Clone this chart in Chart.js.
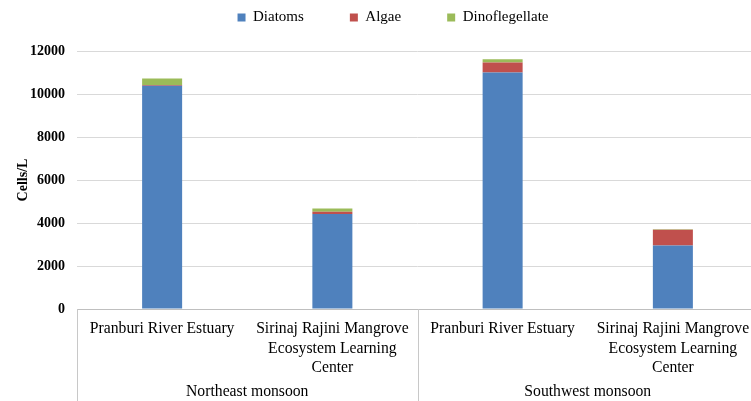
<!DOCTYPE html>
<html>
<head>
  <meta charset="utf-8">
  <title>Cells/L</title>
  <script src="https://cdn.jsdelivr.net/npm/chart.js@4.4.1/dist/chart.umd.min.js"></script>
  <style>
    body { margin: 0; overflow: hidden; background: #ffffff; }
    #wrap { width: 786px; height: 401px; }
  </style>
</head>
<body>
<div id="wrap"><canvas id="myChart"></canvas></div>
<script>
  // data
  const sites = [
    ["Pranburi River Estuary"],
    ["Sirinaj Rajini Mangrove", "Ecosystem Learning", "Center"],
    ["Pranburi River Estuary"],
    ["Sirinaj Rajini Mangrove", "Ecosystem Learning", "Center"]
  ];
  const seasons = ["Northeast monsoon", "Southwest monsoon"];
  const diatoms = [10380, 4420, 11000, 2950];
  const algae = [40, 100, 460, 740];
  const dino = [300, 160, 160, 20];
  const yTicks = [0, 2000, 4000, 6000, 8000, 10000, 12000];

  const serif = "'Liberation Serif', 'Times New Roman', serif";

  // lines under the axis that mark off the two monsoon groups
  const groupLines = {
    id: 'groupLines',
    afterDraw(chart) {
      const x = chart.scales.x;
      const c = chart.ctx;
      const mid = (x.getPixelForValue(1) + x.getPixelForValue(2)) / 2;
      c.save();
      c.strokeStyle = '#c8c8c8';
      c.lineWidth = 1;
      [x.left, mid, x.right].forEach(px => {
        c.beginPath();
        c.moveTo(Math.round(px) + 0.5, x.top);
        c.lineTo(Math.round(px) + 0.5, chart.height);
        c.stroke();
      });
      c.restore();
    }
  };

  // keep the legend short even with wide spacing between items
  const legendHeight = {
    id: 'legendHeight',
    beforeInit(chart) {
      const fit = chart.legend.fit;
      chart.legend.fit = function () {
        fit.bind(chart.legend)();
        this.height = 87;
      };
    }
  };

  var ctx = document.getElementById('myChart').getContext('2d');
  var myChart = new Chart(ctx, {
    type: 'bar',
    data: {
      labels: sites,
      datasets: [
        { label: 'Diatoms', data: diatoms, backgroundColor: '#4f81bd' },
        { label: 'Algae', data: algae, backgroundColor: '#c0504d' },
        { label: 'Dinoflegellate', data: dino, backgroundColor: '#9bbb59' }
      ]
    },
    options: {
      responsive: true,
      maintainAspectRatio: false,
      animation: false,
      layout: { padding: { top: -36, right: 0, left: 0, bottom: 0 } },
      datasets: { bar: { barPercentage: 0.235, categoryPercentage: 1 } },
      plugins: {
        tooltip: { enabled: false },
        legend: {
          position: 'top',
          labels: {
            boxWidth: 8, boxHeight: 8, padding: 46,
            color: '#000', font: { family: serif, size: 15 }
          }
        }
      },
      scales: {
        x: {
          stacked: true,
          grid: { display: false, drawTicks: false },
          border: { color: '#bfbfbf' },
          ticks: {
            color: '#000', maxRotation: 0, autoSkip: false, padding: 10,
            font: { family: serif, size: 15.7, lineHeight: 1.25 }
          },
          afterFit(s) { s.height = 70; }
        },
        group: {
          type: 'category',
          labels: seasons,
          position: 'bottom',
          offset: true,
          grid: { display: false, drawTicks: false },
          border: { display: false },
          ticks: { color: '#000', padding: 3, font: { family: serif, size: 15.7 } },
          afterFit(s) { s.height = 22; }
        },
        y: {
          stacked: true,
          min: 0, max: 12000,
          afterBuildTicks(s) { s.ticks = yTicks.map(v => ({ value: v })); },
          grid: { color: '#d9d9d9', drawTicks: false },
          border: { display: false },
          ticks: {
            color: '#000', padding: 12,
            callback: v => String(v),
            font: { family: serif, size: 14, weight: 'bold' }
          },
          title: {
            display: true, text: 'Cells/L', color: '#000', padding: { top: 15, bottom: 0 },
            font: { family: serif, size: 14, weight: 'bold' }
          },
          afterFit(s) { s.width = 77; }
        },
        // empty strip on the right so the plot runs past the window edge
        yr: {
          position: 'right',
          grid: { display: false, drawTicks: false },
          border: { display: false },
          ticks: { display: false },
          afterFit(s) { s.width = 28; }
        }
      }
    },
    plugins: [groupLines, legendHeight]
  });
</script>
</body>
</html>
